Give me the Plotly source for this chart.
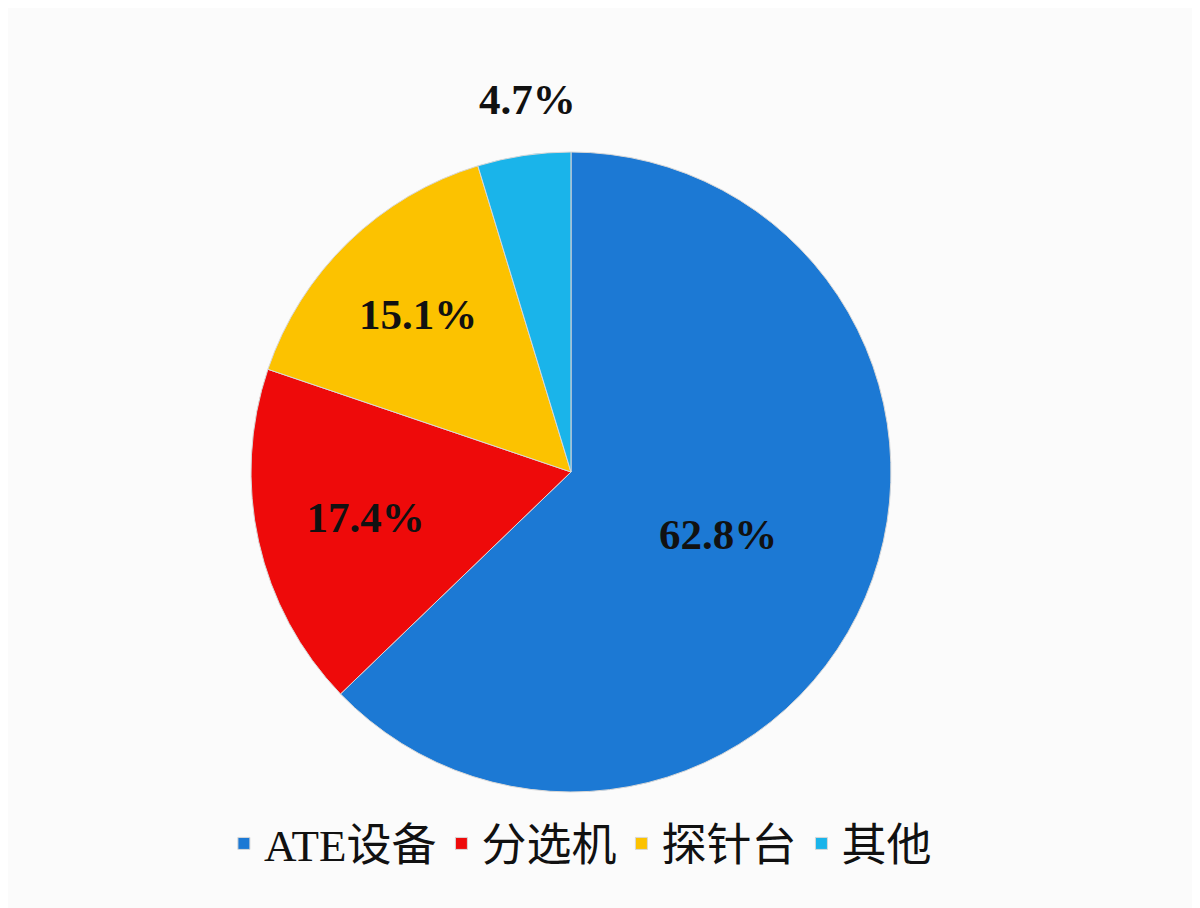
import plotly.graph_objects as go

labels = ["ATE设备", "分选机", "探针台", "其他"]
shares = [62.8, 17.4, 15.1, 4.7]
colors = ["#1c79d4", "#ee0a0a", "#fcc200", "#1ab4ea"]

label_font = dict(family="Liberation Serif", size=43, color="#111111")

fig = go.Figure(
    go.Pie(
        labels=labels,
        values=shares,
        sort=False,
        direction="clockwise",
        rotation=0,
        marker=dict(colors=colors, line=dict(color="#d8d8d8", width=1)),
        # the small slice gets its label from an annotation above the pie
        text=[f"<b>{v:.1f}%</b>" for v in shares[:3]] + [""],
        textinfo="text",
        textposition="inside",
        insidetextorientation="horizontal",
        textfont=label_font,
        domain=dict(x=[0.2025, 0.7358], y=[0.1366, 0.8414]),
        hoverinfo="label+percent",
    )
)

fig.add_annotation(
    text=f"<b>{shares[3]:.1f}%</b>",
    x=0.433, y=0.899, xref="paper", yref="paper",
    xanchor="center", yanchor="middle",
    showarrow=False, font=label_font,
)

fig.update_layout(
    width=1200,
    height=908,
    margin=dict(l=0, r=0, t=0, b=0),
    paper_bgcolor="#fbfbfb",
    plot_bgcolor="#fbfbfb",
    legend=dict(
        orientation="h",
        x=0.477,
        xanchor="center",
        y=0.04,
        yanchor="bottom",
        font=dict(family="Liberation Serif, Noto Sans CJK SC", size=45, color="#111111"),
        itemwidth=30,
    ),
)

fig.write_html("out.html")
